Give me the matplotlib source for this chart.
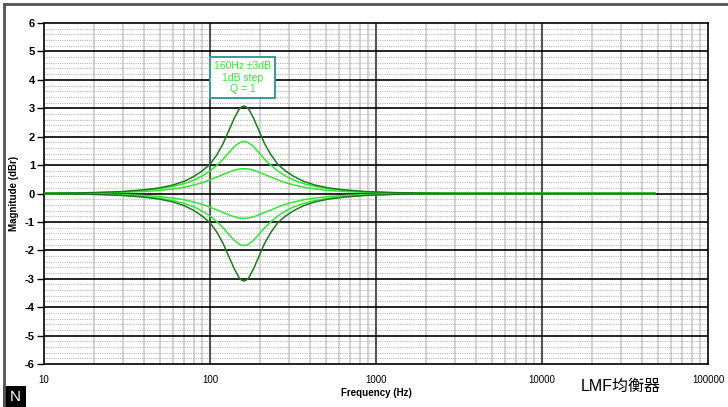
import matplotlib.pyplot as plt
from matplotlib.ticker import FixedLocator, NullFormatter
from matplotlib.patches import Rectangle
from matplotlib.lines import Line2D

plt.rcParams['font.family'] = ['Liberation Sans', 'Noto Sans CJK SC', 'DejaVu Sans']
plt.rcParams['axes.unicode_minus'] = False

freq = [10, 20, 30, 40, 50, 60, 70, 80, 90, 100, 110, 120, 130, 140, 150, 155, 160,
        165, 171, 183, 197, 213, 233, 256, 284, 320, 366, 427, 512, 640, 853, 1280,
        2560, 5000, 10000, 20000, 48000]

# boost curves (dB); the cut curves are the same values negated
boost_3db = [0.01, 0.03, 0.07, 0.13, 0.20, 0.30, 0.43, 0.60, 0.80, 1.03, 1.36, 1.76, 2.22, 2.65, 2.97, 3.05, 3.08,
             3.05, 2.97, 2.65, 2.22, 1.76, 1.36, 1.03, 0.80, 0.60, 0.43, 0.30, 0.20, 0.13, 0.07, 0.03,
             0.01, 0.0, 0.0, 0.0, 0.0]
boost_2db = [0.01, 0.03, 0.06, 0.11, 0.17, 0.25, 0.35, 0.47, 0.62, 0.79, 0.99, 1.21, 1.44, 1.65, 1.78, 1.82, 1.83,
             1.82, 1.78, 1.65, 1.44, 1.21, 0.99, 0.79, 0.62, 0.47, 0.35, 0.25, 0.17, 0.11, 0.06, 0.03,
             0.01, 0.0, 0.0, 0.0, 0.0]
boost_1db = [0.0, 0.02, 0.04, 0.07, 0.11, 0.16, 0.22, 0.30, 0.38, 0.48, 0.58, 0.67, 0.75, 0.82, 0.86, 0.87, 0.87,
             0.87, 0.86, 0.82, 0.75, 0.67, 0.58, 0.48, 0.38, 0.30, 0.22, 0.16, 0.11, 0.07, 0.04, 0.02,
             0.0, 0.0, 0.0, 0.0, 0.0]

x_ticks = [10, 100, 1000, 10000, 100000]
y_ticks = list(range(-6, 7))

dark = '#1f7a1f'
lime = '#33e633'

fig = plt.figure(figsize=(7.28, 4.07), dpi=100)
ax = fig.add_axes([44 / 728, 1 - 364 / 407, 664 / 728, 341 / 407])

# grid
minor_x = [m * 10 ** d for d in range(1, 5) for m in range(2, 10)]
for xv in minor_x:
    ax.axvline(xv, color='#d4d4d4', lw=1.5, zorder=1)
for xv in x_ticks[1:-1]:
    ax.axvline(xv, color='#555555', lw=1.5, zorder=2)
for i in range(-30, 31):
    if i % 5:
        ax.axhline(i / 5, color='#b8b8b8', lw=0.8, ls=(0, (1, 1)), zorder=1)
for yv in y_ticks[1:-1]:
    ax.axhline(yv, color='black', lw=1.2, zorder=2)

for curve, col in [(boost_1db, lime), (boost_2db, lime), (boost_3db, dark)]:
    ax.plot(freq, curve, color=col, lw=1.1, zorder=3)
    ax.plot(freq, [-v for v in curve], color=col, lw=1.1, zorder=3)

ax.set_xscale('log')
ax.set_xlim(10, 100000)
ax.set_ylim(-6, 6)
ax.xaxis.set_major_locator(FixedLocator(x_ticks))
ax.xaxis.set_major_formatter(plt.FuncFormatter(lambda v, p: '%d' % v))
ax.xaxis.set_minor_formatter(NullFormatter())
ax.set_yticks(y_ticks)
ax.tick_params(axis='x', which='both', length=0, labelsize=7, pad=8)
ax.tick_params(axis='y', length=5, width=1, labelsize=8, pad=1.5)
for lab in ax.get_yticklabels():
    lab.set_fontweight('bold')
for s in ax.spines.values():
    s.set_linewidth(1.2)

ax.set_xlabel('Frequency (Hz)', fontsize=7, fontweight='bold', labelpad=2)
ax.set_ylabel('Magnitude (dBr)', fontsize=7, fontweight='bold')
ax.yaxis.set_label_coords(-25 / 664, 0.5)

ax.text(0.299, 0.84, '160Hz ±3dB\n1dB step\nQ = 1', transform=ax.transAxes,
        ha='center', va='center', fontsize=7.5, color=lime, linespacing=1.2, zorder=5,
        bbox=dict(boxstyle='square,pad=0.35', fc='white', ec='#3a9a9a', lw=1.4))

fig.text(621 / 728, 1 - 386 / 407, 'LMF均衡器', fontsize=11.5, ha='center', va='center')

# corner badge and outer frame
fig.patches.append(Rectangle((3 / 728, 0), 23 / 728, 21 / 407, transform=fig.transFigure,
                             fc='black', ec='none'))
fig.text(15 / 728, 10 / 407, 'N', color='white', fontsize=11, ha='center', va='center')
fig.lines.append(Line2D([4 / 728, 1], [1 - 4 / 407, 1 - 4 / 407], transform=fig.transFigure,
                        color='#555555', lw=2))
fig.lines.append(Line2D([4 / 728, 4 / 728], [0, 1 - 4 / 407], transform=fig.transFigure,
                        color='#555555', lw=2))

fig.savefig('out.png', dpi=100)
